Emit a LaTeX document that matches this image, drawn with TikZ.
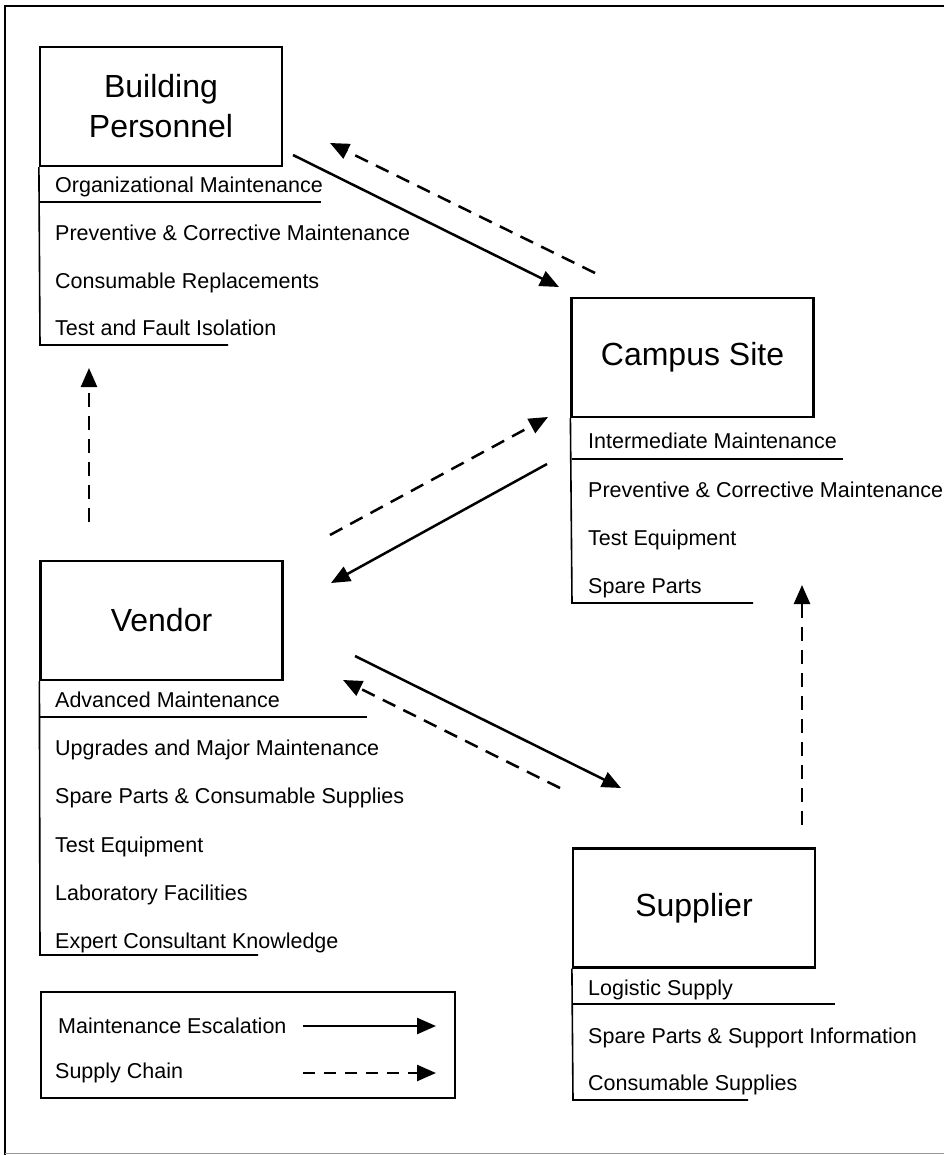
\documentclass[tikz,border=0pt]{standalone}
\usepackage{fontspec}
\setmainfont{Liberation Sans}
\usetikzlibrary{arrows.meta}

\newcommand{\bigtxt}{\fontsize{32}{38}\selectfont}
\newcommand{\itemtxt}{\fontsize{21.5}{24}\selectfont}

\tikzset{
  unitbox/.style={draw, line width=2.2pt, minimum width=242pt, minimum height=119pt,
                  inner sep=0pt, align=center, font=\bigtxt},
  entry/.style={anchor=base west, inner sep=0pt, font=\itemtxt},
  rule/.style={line width=1.6pt},
  escal/.style={line width=2.5pt, -{Triangle[length=19pt,width=16pt]}},
  supply/.style={escal, dash pattern=on 14pt off 9pt},
  frameline/.style={line width=2.2pt}
}

\begin{document}
\begin{tikzpicture}[x=1pt, y=-1pt]
\useasboundingbox (0,0) rectangle (944,1155);

% outer frame
\draw[frameline] (944,6) -- (5,6) -- (5,1155);
\draw[line width=1pt, black!40] (5,1153) -- (944,1153);

% ---- Building Personnel ----
\node[unitbox] (bp) at (161,106.5) {Building\\[2pt]Personnel};
\draw[rule] (bp.south west) -- (40,345) -- (228,345);
\draw[rule] (40,202) -- (321,202);
\node[entry] (bph) at (55,193) {Organizational Maintenance};
\node[entry] (bpa) at (55,241) {Preventive \& Corrective Maintenance};
\node[entry] (bpb) at (55,288) {Consumable Replacements};
\node[entry] (bpc) at (55,335) {Test and Fault Isolation};

% ---- Campus Site ----
\node[unitbox] (cs) at (692.5,357.5) {Campus Site};
\draw[rule] (cs.south west) -- (572,603) -- (753,603);
\draw[rule] (572,459) -- (843,459);
\node[entry] (csh) at (588,448) {Intermediate Maintenance};
\node[entry] (csa) at (588,497) {Preventive \& Corrective Maintenance};
\node[entry] (csb) at (588,545) {Test Equipment};
\node[entry] (csc) at (588,593) {Spare Parts};

% ---- Vendor ----
\node[unitbox] (vd) at (161.5,620.5) {Vendor};
\draw[rule] (vd.south west) -- (40,955) -- (258,955);
\draw[rule] (40,717) -- (367,717);
\node[entry] (vdh) at (55,707) {Advanced Maintenance};
\node[entry] (vda) at (55,755) {Upgrades and Major Maintenance};
\node[entry] (vdb) at (55,803) {Spare Parts \& Consumable Supplies};
\node[entry] (vdc) at (55,852) {Test Equipment};
\node[entry] (vdd) at (55,900) {Laboratory Facilities};
\node[entry] (vde) at (55,948) {Expert Consultant Knowledge};

% ---- Supplier ----
\node[unitbox] (sp) at (694,908) {Supplier};
\draw[rule] (sp.south west) -- (573,1100) -- (748,1100);
\draw[rule] (573,1004) -- (835,1004);
\node[entry] (sph) at (588,995) {Logistic Supply};
\node[entry] (spa) at (588,1043) {Spare Parts \& Support Information};
\node[entry] (spb) at (588,1090) {Consumable Supplies};

% ---- connector end points ----
\coordinate (bpOut)  at (293,155);
\coordinate (csIn)   at (559,287);
\coordinate (csOut)  at (595,273);
\coordinate (bpIn)   at (330,143);
\coordinate (vdUp)   at (89,522);
\coordinate (bpLow)  at (89,368);
\coordinate (vdOutA) at (330,535);
\coordinate (csInB)  at (548,417);
\coordinate (csOutB) at (547,464);
\coordinate (vdIn)   at (331,583);
\coordinate (vdOutC) at (355,656);
\coordinate (spIn)   at (621,788);
\coordinate (spOut)  at (560,788);
\coordinate (vdInB)  at (343,680);
\coordinate (spUp)   at (802,825);
\coordinate (csLow)  at (802,585);

% maintenance escalation (solid) and supply chain (dashed)
\draw[escal]  (bpOut)  -- (csIn);
\draw[supply] (csOut)  -- (bpIn);
\draw[supply] (vdUp)   -- (bpLow);
\draw[supply] (vdOutA) -- (csInB);
\draw[escal]  (csOutB) -- (vdIn);
\draw[escal]  (vdOutC) -- (spIn);
\draw[supply] (spOut)  -- (vdInB);
\draw[supply] (spUp)   -- (csLow);

% ---- legend ----
\node[draw, line width=2.2pt, minimum width=414pt, minimum height=106pt, inner sep=0pt]
  (lg) at (248,1045) {};
\node[entry] (lga) at (58,1033) {Maintenance Escalation};
\node[entry] (lgb) at (55,1078) {Supply Chain};
\coordinate (lgaS) at (303,1026);
\coordinate (lgaE) at (436,1026);
\coordinate (lgbS) at (303,1073);
\coordinate (lgbE) at (436,1073);
\draw[escal] (lgaS) -- (lgaE);
\draw[escal, dash pattern=on 12pt off 9pt] (lgbS) -- (lgbE);

\end{tikzpicture}
\end{document}
